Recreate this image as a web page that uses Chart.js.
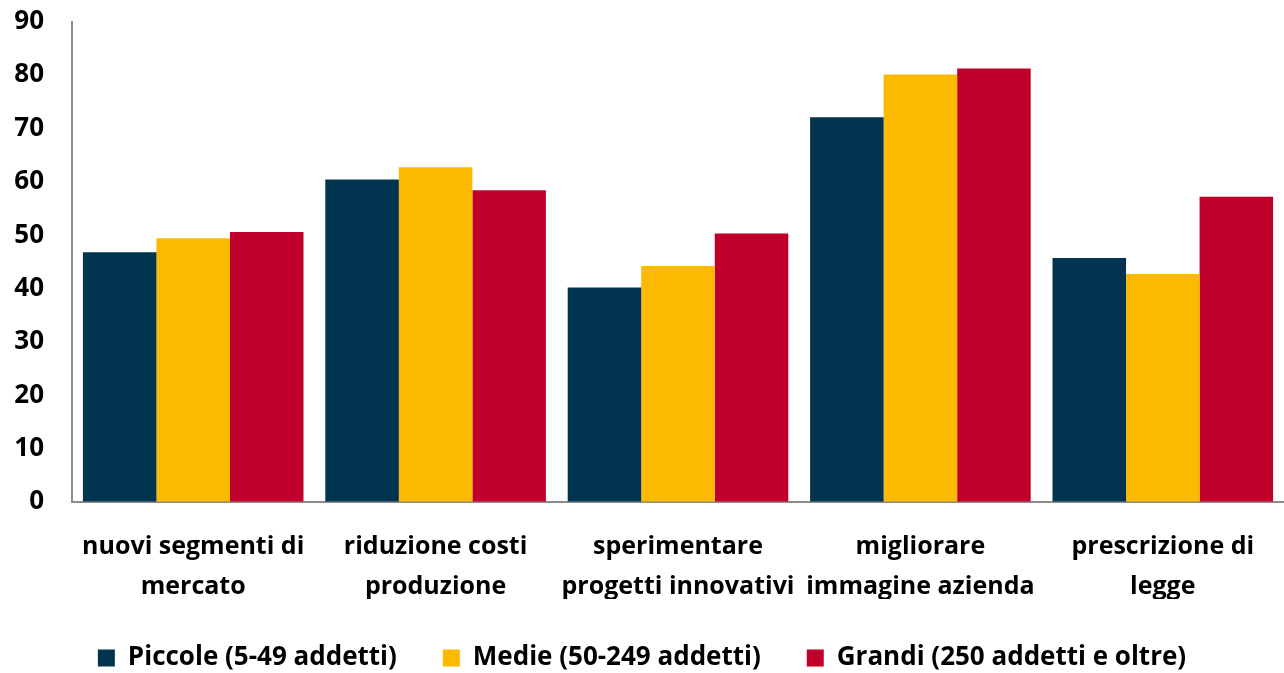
<!DOCTYPE html>
<html lang="it">
<head>
    <meta charset="UTF-8">
    <title>Motivazioni per dimensione d'impresa</title>
    <script src="https://cdn.jsdelivr.net/npm/chart.js"></script>
    <style>
        html, body { margin: 0; padding: 0; background: #fff; overflow: hidden; }
        /* canvas slightly taller than the window so the legend sits low like the original */
        #wrap { width: 1284px; height: 681px; }
    </style>
</head>
<body>
    <div id="wrap"><canvas id="chart"></canvas></div>

    <script>
        const categories = [
            ['nuovi segmenti di', 'mercato'],
            ['riduzione costi', 'produzione'],
            ['sperimentare', 'progetti innovativi'],
            ['migliorare', 'immagine azienda'],
            ['prescrizione di', 'legge']
        ];
        const seriesNames = ['Piccole (5-49 addetti)', 'Medie (50-249 addetti)', 'Grandi (250 addetti e oltre)'];
        const piccole = [46.8, 60.4, 40.2, 72.1, 45.7];
        const medie = [49.4, 62.7, 44.2, 80.1, 42.7];
        const grandi = [50.6, 58.4, 50.3, 81.2, 57.2];
        const yTicks = [0, 10, 20, 30, 40, 50, 60, 70, 80, 90];

        const colors = ['#00344f', '#fbba00', '#c0002b'];
        const fontFamily = '"Open Sans", "Liberation Sans", sans-serif';
        const noGrid = { display: true, drawOnChartArea: false, drawTicks: true, color: 'rgba(0,0,0,0)' };

        const ctx = document.getElementById('chart').getContext('2d');
        new Chart(ctx, {
            type: 'bar',
            data: {
                labels: categories,
                datasets: [piccole, medie, grandi].map((d, i) => ({
                    label: seriesNames[i],
                    data: d,
                    backgroundColor: colors[i],
                    categoryPercentage: 0.91,
                    barPercentage: 1.0
                }))
            },
            options: {
                responsive: true,
                maintainAspectRatio: false,
                animation: false,
                layout: { padding: 0 },
                plugins: {
                    tooltip: { enabled: false },
                    legend: {
                        position: 'bottom',
                        labels: {
                            color: '#000',
                            boxWidth: 17,
                            boxHeight: 17,
                            padding: 46,
                            font: { family: fontFamily, size: 26, weight: 'bold' }
                        }
                    }
                },
                scales: {
                    x: {
                        grid: Object.assign({}, noGrid, { tickLength: 0 }),
                        border: { display: true, color: '#8c8c8c', width: 2 },
                        afterFit: axis => { axis.height = 97; },
                        ticks: {
                            color: '#000',
                            padding: 25,
                            maxRotation: 0,
                            autoSkip: false,
                            font: { family: fontFamily, size: 25, weight: 'bold', lineHeight: 1.6 }
                        }
                    },
                    y: {
                        min: 0,
                        max: 90,
                        grid: Object.assign({}, noGrid, { tickLength: 22 }),
                        border: { display: true, color: '#8c8c8c', width: 2 },
                        afterBuildTicks: axis => { axis.ticks = yTicks.map(v => ({ value: v })); },
                        afterFit: axis => { axis.width = 72; },
                        ticks: {
                            color: '#000',
                            padding: 6,
                            font: { family: fontFamily, size: 26, weight: 'bold' }
                        }
                    }
                }
            }
        });
    </script>
</body>
</html>
